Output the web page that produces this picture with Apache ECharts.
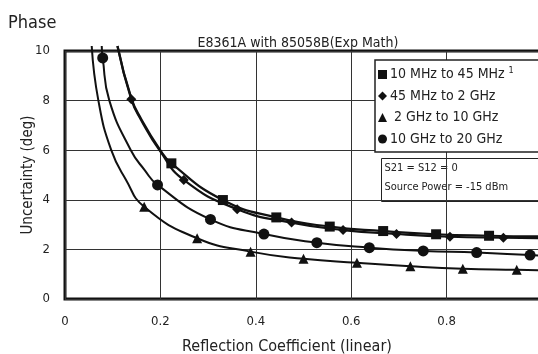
<!DOCTYPE html>
<html><head><meta charset="utf-8">
<script src="https://cdn.jsdelivr.net/npm/echarts@6/dist/echarts.min.js"></script>
<style>html,body{margin:0;padding:0;background:#fff}#c{width:538px;height:354px}</style>
</head><body><div id="c"></div>
<script>
// Category names
const seriesNames = ['10 MHz to 45 MHz', '45 MHz to 2 GHz', '2 GHz to 10 GHz', '10 GHz to 20 GHz'];
const xTicks = [0, 0.2, 0.4, 0.6, 0.8];
const yTicks = [0, 2, 4, 6, 8, 10];

// Marker points [x, y]
const squareMarks = [[0.223,5.47],[0.331,3.99],[0.443,3.29],[0.555,2.92],[0.667,2.74],[0.778,2.61],[0.889,2.55]];
const diamondMarks = [[0.139,8.05],[0.249,4.8],[0.361,3.62],[0.475,3.08],[0.583,2.78],[0.695,2.62],[0.807,2.51],[0.919,2.47]];
const triangleMarks = [[0.166,3.72],[0.277,2.45],[0.389,1.91],[0.5,1.62],[0.612,1.46],[0.724,1.32],[0.834,1.22],[0.947,1.18]];
const circleMarks = [[0.079,9.72],[0.194,4.6],[0.305,3.21],[0.417,2.62],[0.528,2.27],[0.638,2.07],[0.751,1.94],[0.863,1.87],[0.975,1.77]];

// Additional points (no marker)
const squareCurve = [[0.110,10.2],[0.139,8.1],[0.160,7.25],[0.198,6.05],[1.0,2.52]];
const diamondCurve = [[0.110,10.2],[0.160,7.2],[0.198,6.0],[1.0,2.45]];
const triangleCurve = [[0.056,10.2],[0.070,8.0],[0.097,6.0],[0.128,4.8],[1.0,1.16]];
const circleCurve = [[0.077,10.2],[0.093,8.0],[0.138,6.0],[0.167,5.2],[1.0,1.75]];

const FONT = "'Liberation Sans Narrow','DejaVu Sans Condensed',sans-serif";
const INK = '#111';

function build(marks, curve) {
  const pts = marks.map(p => ({value: p, m: true})).concat(curve.map(p => ({value: p, m: false})));
  pts.sort((a, b) => a.value[0] - b.value[0]);
  return pts.map(p => p.m ? {value: p.value} : {value: p.value, symbol: 'none'});
}

function lineSeries(name, marks, curve, symbol, size, width) {
  return {
    name: name, type: 'line', data: build(marks, curve),
    smooth: 0.5, clip: false, showSymbol: true,
    symbol: symbol, symbolSize: size,
    lineStyle: {color: INK, width: width},
    itemStyle: {color: INK, borderWidth: 0},
    emphasis: {disabled: true}, animation: false, z: 3
  };
}

const chart = echarts.init(document.getElementById('c'), null, {renderer: 'canvas'});
chart.setOption({
  animation: false,
  backgroundColor: '#fff',
  textStyle: {fontFamily: FONT},
  title: [
    {text: 'Phase', left: 3, top: 9, textStyle: {fontFamily: FONT, fontSize: 18, fontWeight: 'normal', color: '#222'}},
    {text: 'E8361A with 85058B(Exp Math)', left: 293, textAlign: 'center', top: 31, textStyle: {fontFamily: FONT, fontSize: 14, fontWeight: 'normal', color: '#222'}},
    {text: 'Reflection Coefficient (linear)', left: 282, textAlign: 'center', top: 334, textStyle: {fontFamily: FONT, fontSize: 16, fontWeight: 'normal', color: '#222'}}
  ],
  grid: {left: 65, width: 477, top: 51, height: 248, outerBoundsMode: 'none', containLabel: false,
    show: true, borderColor: INK, borderWidth: 3, backgroundColor: 'transparent'},
  xAxis: {
    type: 'value', min: 0, max: 1, interval: 0.2,
    axisLine: {show: false}, axisTick: {show: false},
    axisLabel: {margin: 16, fontFamily: FONT, fontSize: 13, color: '#222',
      formatter: v => { const r = Math.round(v*10)/10; return xTicks.indexOf(r) >= 0 ? String(r) : ''; }},
    splitLine: {show: true, lineStyle: {color: '#333', width: 1}}
  },
  yAxis: {
    type: 'value', min: 0, max: 10, interval: 2,
    name: 'Uncertainty (deg)', nameLocation: 'middle', nameGap: 29, nameMoveOverlap: false,
    nameTextStyle: {fontFamily: FONT, fontSize: 15, color: '#222'},
    axisLine: {show: false}, axisTick: {show: false},
    axisLabel: {margin: 15, fontFamily: FONT, fontSize: 13, color: '#222',
      formatter: v => yTicks.indexOf(v) >= 0 ? String(v) : ''},
    splitLine: {show: true, lineStyle: {color: '#333', width: 1}}
  },
  legend: {
    orient: 'vertical', left: 375, top: 60,
    padding: [6, 27, 6, 3], itemGap: 7.5, itemWidth: 9, itemHeight: 9,
    backgroundColor: '#fff', borderColor: '#222', borderWidth: 1.5,
    data: [
      {name: seriesNames[0], icon: 'rect'},
      {name: seriesNames[1], icon: 'diamond'},
      {name: seriesNames[2], icon: 'triangle'},
      {name: seriesNames[3], icon: 'circle'}
    ],
    itemStyle: {color: INK}, lineStyle: {width: 0},
    formatter: n => {
      if (n === seriesNames[0]) return n + ' {s|1}';
      if (n === seriesNames[2]) return ' ' + n;
      return n;
    },
    textStyle: {fontFamily: FONT, fontSize: 14, color: '#222', padding: [0,0,0,-2],
      rich: {s: {fontSize: 9, verticalAlign: 'top', padding: [0,0,8,0], fontFamily: FONT, color: '#222'}}}
  },
  graphic: [
    {type: 'group', left: 381, top: 158, children: [
      {type: 'rect', shape: {x: 0, y: 0, width: 170, height: 43}, style: {fill: '#fff', stroke: '#222', lineWidth: 1}},
      {type: 'text', x: 3, y: 4, style: {text: 'S21 = S12 = 0', font: "11px 'Liberation Sans Narrow','DejaVu Sans Condensed',sans-serif", fill: '#222'}},
      {type: 'text', x: 3, y: 23, style: {text: 'Source Power = -15 dBm', font: "11px 'Liberation Sans Narrow','DejaVu Sans Condensed',sans-serif", fill: '#222'}}
    ], z: 10}
  ],
  series: [
    lineSeries(seriesNames[0], squareMarks, squareCurve, 'rect', 10, 2.2),
    lineSeries(seriesNames[1], diamondMarks, diamondCurve, 'diamond', 10, 2.2),
    lineSeries(seriesNames[2], triangleMarks, triangleCurve, 'triangle', 10, 2),
    lineSeries(seriesNames[3], circleMarks, circleCurve, 'circle', 11, 2)
  ]
});
</script></body></html>
